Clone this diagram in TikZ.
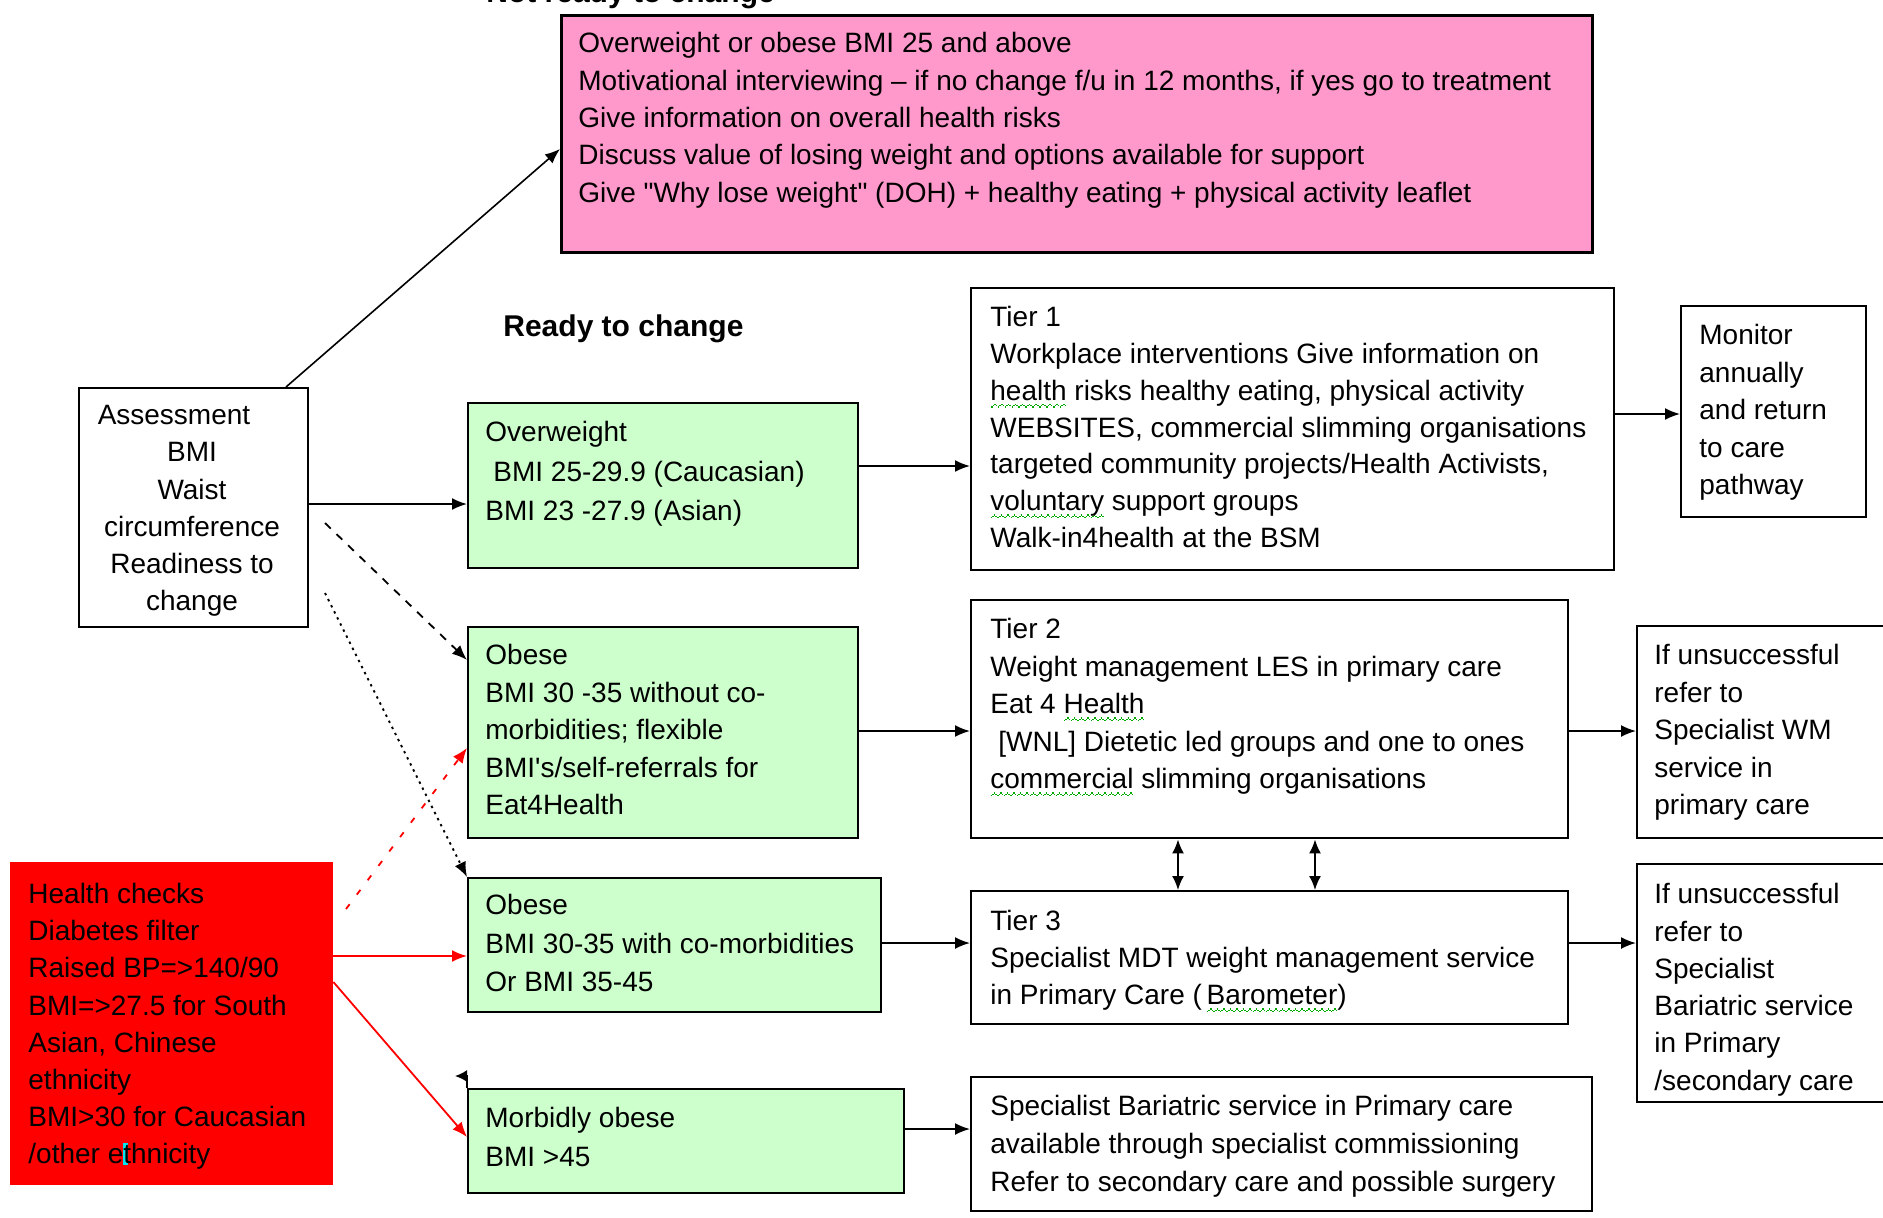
\documentclass[tikz,border=0pt]{standalone}
\usepackage{fontspec}
\setmainfont{Liberation Sans}[Ligatures=TeXOff]
\usetikzlibrary{arrows.meta}
\definecolor{pinkfill}{RGB}{255,153,204}
\definecolor{greenfill}{RGB}{204,255,204}
\definecolor{redfill}{RGB}{255,0,0}
\definecolor{squigc}{RGB}{0,170,0}
\definecolor{cursorc}{RGB}{0,230,240}
\newcommand\zigpiece{\hbox{\raisebox{-3.6pt}{\rule{0.8pt}{0.6pt}}\raisebox{-3.0pt}{\rule{0.8pt}{0.6pt}}\raisebox{-2.4pt}{\rule{0.8pt}{0.6pt}}\raisebox{-3.0pt}{\rule{0.8pt}{0.6pt}}}}
\newsavebox\gsqbox
\newcommand\gsq[1]{\sbox\gsqbox{#1}\rlap{\textcolor{squigc}{\hbox to \wd\gsqbox{\xleaders\zigpiece\hfil}}}#1}
\begin{document}
\begin{tikzpicture}[x=0.5pt,y=-0.5pt,
  box/.style={draw, line width=1.2pt, inner sep=0pt, anchor=north west},
  txt/.style={anchor=north west, inner sep=0pt, align=left, font=\fontsize{14}{18.7}\selectfont},
  ctxt/.style={anchor=north, inner sep=0pt, align=center, font=\fontsize{14}{18.6}\selectfont},
  head/.style={anchor=base west, inner sep=0pt, font=\fontsize{15}{18}\selectfont\bfseries},
  arr/.style={-{Latex[length=7.5pt,width=6pt]}, line width=0.9pt},
  darr/.style={{Latex[length=7pt,width=6pt]}-{Latex[length=7pt,width=6pt]}, line width=0.9pt},
  green box/.style={box, fill=greenfill},
]
\useasboundingbox (0,0) rectangle (1883,1217);

% headings
\node[head] (notready) at (486,2) {Not ready to change};
\node[head] (ready) at (503,336) {Ready to change};

% boxes
\node[box, fill=pinkfill, line width=1.4pt, minimum width=515.5pt, minimum height=118.5pt] (pink) at (560,14) {};
\node[box, minimum width=114.5pt, minimum height=119.5pt] (assess) at (78,387) {};
\node[green box, minimum width=195pt, minimum height=82.5pt] (over) at (467,402) {};
\node[green box, minimum width=195pt, minimum height=105.5pt] (ob1) at (467,626) {};
\node[green box, minimum width=206.5pt, minimum height=67pt] (ob2) at (467,877) {};
\node[green box, minimum width=218pt, minimum height=52pt] (morb) at (467,1088) {};
\node[box, draw=redfill, fill=redfill, minimum width=160.5pt, minimum height=160.5pt] (red) at (10,862) {};
\node[box, minimum width=321.5pt, minimum height=141pt] (tier1) at (970,287) {};
\node[box, minimum width=92.5pt, minimum height=105.5pt] (mon) at (1680,305) {};
\node[box, minimum width=298.5pt, minimum height=119pt] (tier2) at (970,599) {};
\node[box, minimum width=132pt, minimum height=106.25pt] (uns1) at (1636,624.5) {};
\node[box, minimum width=298.5pt, minimum height=66.5pt] (tier3) at (970,890) {};
\node[box, minimum width=132pt, minimum height=119pt] (uns2) at (1636,863) {};
\node[box, minimum width=310.5pt, minimum height=67pt] (bar) at (970,1076) {};

% texts
\node[txt] (pinkT) at (578,32) {Overweight or obese BMI 25 and above\\
Motivational interviewing – if no change f/u in 12 months, if yes go to treatment\\
Give information on overall health risks\\
Discuss value of losing weight and options available for support\\
Give "Why lose weight" (DOH) + healthy eating + physical activity leaflet};
\node[ctxt] (assessT) at (192,405) {Assessment\rule{18pt}{0pt}\\BMI\\Waist\\circumference\\Readiness to\\change};
\node[txt, font=\fontsize{14}{19.75}\selectfont] (overT) at (485,421) {Overweight\\\hspace*{4pt}BMI 25-29.9 (Caucasian)\\BMI 23 -27.9 (Asian)};
\node[txt, font=\fontsize{14}{18.75}\selectfont] (ob1T) at (485,644) {Obese\\BMI 30 -35 without co-\\morbidities; flexible\\BMI's/self-referrals for\\Eat4Health};
\node[txt, font=\fontsize{14}{19.25}\selectfont] (ob2T) at (485,894) {Obese\\BMI 30-35 with co-morbidities\\Or BMI 35-45};
\node[txt, font=\fontsize{14}{19.5}\selectfont] (morbT) at (485,1107) {Morbidly obese\\BMI >45};
\node[txt, font=\fontsize{14}{18.55}\selectfont] (redT) at (28,883) {Health checks\\Diabetes filter\\Raised BP=>140/90\\BMI=>27.5 for South\\Asian, Chinese\\ethnicity\\BMI>30 for Caucasian\\/other e\rlap{\textcolor{cursorc}{\rule[-1pt]{2.5pt}{11pt}}}thnicity};
\node[txt, font=\fontsize{14}{18.4}\selectfont] (tier1T) at (990,306) {Tier 1\\Workplace interventions Give information on\\\gsq{health} risks healthy eating, physical activity\\WEBSITES, commercial slimming organisations\\targeted community projects/Health Activists,\\\gsq{voluntary} support groups\\Walk-in4health at the BSM};
\node[txt, font=\fontsize{14}{18.75}\selectfont] (monT) at (1699,324) {Monitor\\annually\\and return\\to care\\pathway};
\node[txt, font=\fontsize{14}{18.75}\selectfont] (tier2T) at (990,618) {Tier 2\\Weight management LES in primary care\\Eat 4 \gsq{Health}\\\hspace*{4pt}[WNL] Dietetic led groups and one to ones\\\gsq{commercial} slimming organisations};
\node[txt, font=\fontsize{14}{18.75}\selectfont] (uns1T) at (1654,644) {If unsuccessful\\refer to\\Specialist WM\\service in\\primary care};
\node[txt, font=\fontsize{14}{18.5}\selectfont] (tier3T) at (990,910) {Tier 3\\Specialist MDT weight management service\\in Primary Care (\,\gsq{Barometer})};
\node[txt, font=\fontsize{14}{18.65}\selectfont] (uns2T) at (1654,883) {If unsuccessful\\refer to\\Specialist\\Bariatric service\\in Primary\\/secondary care};
\node[txt, font=\fontsize{14}{18.9}\selectfont] (barT) at (990,1095) {Specialist Bariatric service in Primary care\\available through specialist commissioning\\Refer to secondary care and possible surgery};

% free ends
\coordinate (dashS) at (325,523);
\coordinate (dotS) at (325,593);
\coordinate (redDS) at (346,909);

% connectors
\draw[arr, line width=0.8pt] (286,0 |- assess.north) -- (pink.west |- 0,149);
\draw[arr] (assess.east |- 0,504) -- (over.west |- 0,504);
\draw[arr, dash pattern=on 4pt off 4pt] (dashS) -- (ob1.west |- 0,660);
\draw[arr, dash pattern=on 1.2pt off 2.2pt] (dotS) -- (ob2.north west);
\draw[arr, red, dash pattern=on 3pt off 6pt] (redDS) -- (ob1.west |- 0,748);
\draw[arr, red] (red.east |- 0,956) -- (ob2.west |- 0,956);
\draw[arr, red] (red.east |- 0,982) -- (morb.west |- 0,1137);
\draw[arr, -{Latex[length=6pt,width=6pt]}] (morb.north west) -- ++(0,-12) -- ++(-12,0);

\draw[arr] (over.east |- 0,466) -- (tier1.west |- 0,466);
\draw[arr] (ob1.east |- 0,731) -- (tier2.west |- 0,731);
\draw[arr] (ob2.east |- 0,943) -- (tier3.west |- 0,943);
\draw[arr] (morb.east |- 0,1129) -- (bar.west |- 0,1129);
\draw[arr] (tier1.east |- 0,414) -- (mon.west |- 0,414);
\draw[arr] (tier2.east |- 0,731) -- (uns1.west |- 0,731);
\draw[arr] (tier3.east |- 0,943) -- (uns2.west |- 0,943);
\draw[darr] (1178,0 |- tier2.south) -- (1178,0 |- tier3.north);
\draw[darr] (1315,0 |- tier2.south) -- (1315,0 |- tier3.north);
\end{tikzpicture}
\end{document}
